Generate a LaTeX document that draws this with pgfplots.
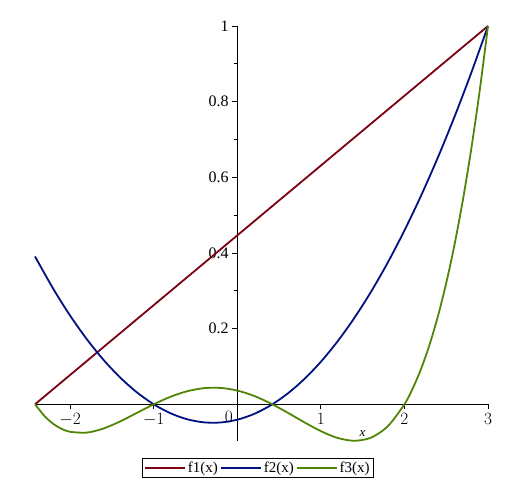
\documentclass[border=0pt]{standalone}
\usepackage{pgfplots}
\pgfplotsset{compat=1.18}
\usepackage{fontspec}
\setmainfont{Liberation Serif}

\definecolor{mred}{RGB}{125,0,18}
\definecolor{mblue}{RGB}{0,18,130}
\definecolor{mgreen}{RGB}{82,132,8}

\begin{document}
\begin{tikzpicture}
\useasboundingbox (0,0) rectangle (523pt,494pt);
\begin{axis}[
    at={(35pt,53pt)}, anchor=south west,
    scale only axis,
    width=453pt, height=415pt,
    xmin=-2.42, xmax=3.0,
    ymin=-0.097, ymax=1.0,
    axis lines=middle,
    axis line style={-, black, line width=0.9pt},
    xtick={-2,-1,1,2,3},
    ytick={0.2,0.4,0.6,0.8,1},
    yticklabels={0.2,0.4,0.6,0.8,1},
    minor x tick num=1,
    minor y tick num=1,
    tick align=outside,
    major tick length=5pt,
    minor tick length=3pt,
    tick style={black, line width=0.8pt},
    hide obscured x ticks=false,
    hide obscured y ticks=false,
    tick label style={font=\fontsize{16}{18}\selectfont},
    xticklabel style={yshift=-1pt},
    clip=false,
    legend columns=3,
    legend style={at={(axis description cs:0.492,-0.065)}, anchor=center,
        draw=black, line width=0.8pt, font=\fontsize{15}{17}\selectfont,
        inner sep=1.5pt, column sep=0pt},
    legend image code/.code={\draw[#1] (0pt,0pt) -- (40pt,0pt);},
    every axis plot/.append style={line width=1.8pt},
]
\addplot[mred] coordinates {(-2.42,0) (3.0,1.0)};
\addplot[mblue, smooth] coordinates {
 (-2.42,0.3908) (-2.2,0.3047) (-2.0,0.2345) (-1.8,0.1721) (-1.6,0.1174)
 (-1.4,0.0705) (-1.2,0.0314) (-1.0,0) (-0.8,-0.0236) (-0.6,-0.0395)
 (-0.4,-0.0477) (-0.2,-0.0481) (0,-0.0407) (0.2,-0.0256) (0.4,-0.0027)
 (0.6,0.0279) (0.8,0.0663) (1.0,0.1124) (1.2,0.1663) (1.4,0.2279)
 (1.6,0.2973) (1.8,0.3744) (2.0,0.4593) (2.2,0.5519) (2.4,0.6523)
 (2.6,0.7605) (2.8,0.8764) (3.0,1.0)};
\addplot[mgreen, smooth] coordinates {
 (-2.42,0) (-2.3,-0.0326) (-2.2,-0.0519) (-2.1,-0.0650) (-2.0,-0.0727)
 (-1.8,-0.0748) (-1.6,-0.0640)
 (-1.4,-0.0451) (-1.2,-0.0226) (-1.0,0) (-0.8,0.0198) (-0.6,0.0345)
 (-0.4,0.0426) (-0.2,0.0433) (0,0.0363) (0.2,0.0223) (0.4,0.0023)
 (0.6,-0.0218) (0.8,-0.0473) (1.0,-0.0709) (1.2,-0.0889) (1.4,-0.0964)
 (1.6,-0.0882) (1.8,-0.0583) (2.0,0) (2.1,0.0421) (2.2,0.0941)
 (2.3,0.1571) (2.4,0.2321) (2.5,0.3202) (2.6,0.4226) (2.7,0.5406)
 (2.8,0.6753) (2.9,0.8280) (3.0,1.0)};
\legend{f1(x), f2(x), f3(x)}
\node[font=\fontsize{16}{18}\selectfont, anchor=north] at (axis cs:-0.1,-0.010) {$0$};
\node[font=\itshape\fontsize{13}{15}\selectfont] at (axis cs:1.5,-0.076) {x};
\end{axis}
\end{tikzpicture}
\end{document}
